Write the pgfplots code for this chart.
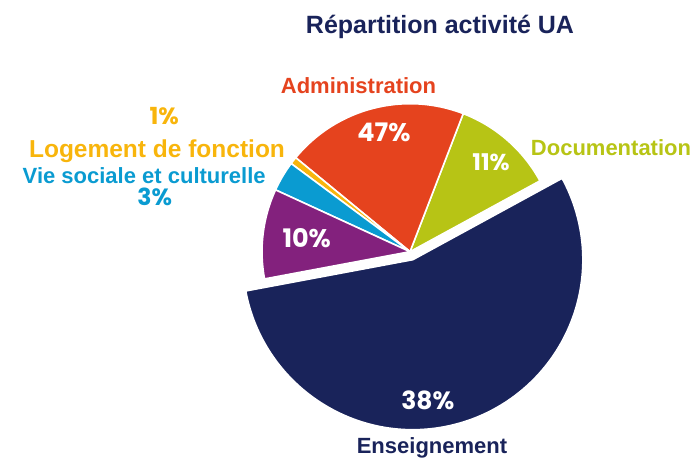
\documentclass[border=0pt]{standalone}
\usepackage{fontspec}
\setmainfont{Liberation Sans}
\newfontfamily\numfont{Poppins}
\usepackage{pgfplots}
\pgfplotsset{compat=1.18}

\definecolor{cNavy}{HTML}{19235A}
\definecolor{cAdm}{HTML}{E5431E}
\definecolor{cDoc}{HTML}{B7C415}
\definecolor{cLog}{HTML}{F8B50C}
\definecolor{cVie}{HTML}{0A9BD1}
\definecolor{cVio}{HTML}{83217D}

% slice: {cumulative start %}{value %}{colour}{radius}{explode}
% start angle of the pie: 28.6 degrees, counter-clockwise
\newcommand{\pieslice}[5]{%
  \fill[#3, draw=white, line width=1.6bp, line join=round]
    (axis cs:410,207.3) ++({28.6+3.6*(#1+#2/2)}:#5bp)
    -- ++({28.6+3.6*#1}:#4bp)
    arc[start angle={28.6+3.6*#1}, end angle={28.6+3.6*(#1+#2)}, radius=#4bp]
    -- cycle;}

\begin{document}
\begin{tikzpicture}
\begin{axis}[name=ax, x=1bp, y=1bp, xmin=0, xmax=698, ymin=0, ymax=459,
  hide axis, clip=false]
% Documentation, Administration, Logement, Vie sociale, (violet), Enseignement
\pieslice{0}{11.2}{cDoc}{148}{0}
\pieslice{11.2}{19.9}{cAdm}{148}{0}
\pieslice{31.1}{0.8}{cLog}{148}{0}
\pieslice{31.9}{3.3}{cVie}{148}{0}
\pieslice{35.2}{9.8}{cVio}{148}{0}
\pieslice{45.0}{55.0}{cNavy}{170}{8.5}

\node[anchor=base, text=cNavy, font=\fontsize{25bp}{28bp}\selectfont\bfseries]
  at (axis cs:440,425.7) {Répartition activité UA};
\node[anchor=base, text=cAdm, font=\fontsize{22bp}{26bp}\selectfont\bfseries]
  at (axis cs:358.5,365) {Administration};
\node[anchor=base, text=cDoc, font=\fontsize{22bp}{26bp}\selectfont\bfseries]
  at (axis cs:611,303) {Documentation};
\node[anchor=base, text=cLog, font=\fontsize{24.5bp}{28bp}\selectfont\bfseries]
  at (axis cs:157,301.3) {Logement de fonction};
\node[anchor=base, text=cVie, font=\fontsize{22bp}{26bp}\selectfont\bfseries]
  at (axis cs:144.2,275.7) {Vie sociale et culturelle};
\node[anchor=base, text=cNavy, font=\fontsize{22bp}{26bp}\selectfont\bfseries]
  at (axis cs:432,5) {Enseignement};

\node[anchor=base, text=cLog, font=\fontsize{23.5bp}{26bp}\selectfont\numfont\bfseries]
  at (axis cs:164.2,334.7) {1\%};
\node[anchor=base, text=cVie, font=\fontsize{23.5bp}{26bp}\selectfont\numfont\bfseries]
  at (axis cs:154.7,253.3) {3\%};
\node[anchor=base, text=white, font=\fontsize{25.5bp}{28bp}\selectfont\numfont\bfseries]
  at (axis cs:384,317.3) {47\%};
\node[anchor=base, text=white, font=\fontsize{23bp}{26bp}\selectfont\numfont\bfseries]
  at (axis cs:491,288) {11\%};
\node[anchor=base, text=white, font=\fontsize{25.5bp}{28bp}\selectfont\numfont\bfseries]
  at (axis cs:306.7,211.7) {10\%};
\node[anchor=base, text=white, font=\fontsize{25bp}{28bp}\selectfont\numfont\bfseries]
  at (axis cs:427.8,49) {38\%};
\end{axis}
\pgfresetboundingbox
\useasboundingbox (ax.south west) rectangle (ax.north east);
\end{tikzpicture}
\end{document}
